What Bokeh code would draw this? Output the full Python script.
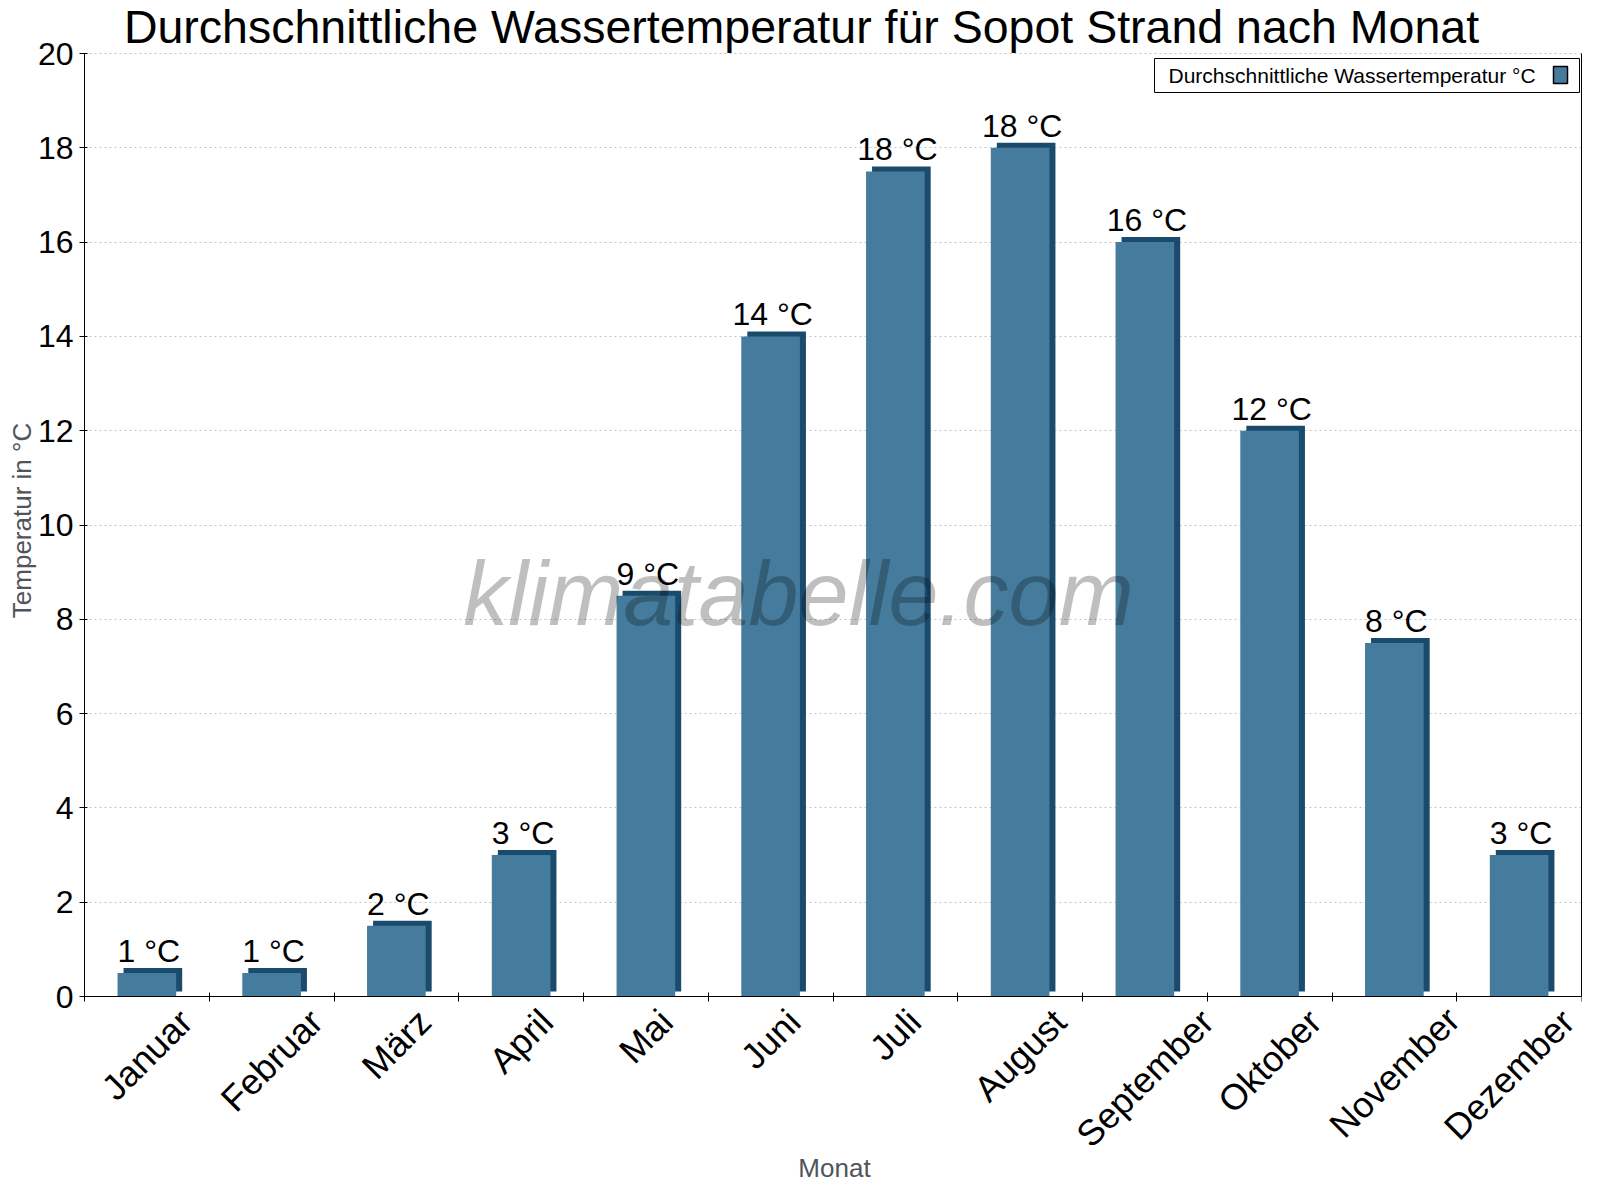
import math
from bokeh.plotting import figure
from bokeh.models import (Range1d, FixedTicker, LinearAxis, Label, LabelSet,
                          ColumnDataSource, BoxAnnotation)
from bokeh.embed import file_html
from bokeh.resources import INLINE
from bokeh.core.properties import value

# ---------------- data ----------------
months = ["Januar", "Februar", "März", "April", "Mai", "Juni", "Juli",
          "August", "September", "Oktober", "November", "Dezember"]
temps = [0.5, 0.5, 1.5, 3, 8.5, 14, 17.5, 18, 16, 12, 7.5, 3]
temp_labels = ["1 °C", "1 °C", "2 °C", "3 °C", "9 °C", "14 °C", "18 °C",
               "18 °C", "16 °C", "12 °C", "8 °C", "3 °C"]
y_ticks = [0, 2, 4, 6, 8, 10, 12, 14, 16, 18, 20]
y_min_value, y_max_value = 0, 20

title_text = "Durchschnittliche Wassertemperatur für Sopot Strand nach Monat"
legend_text = "Durchschnittliche Wassertemperatur °C"
x_title = "Monat"
y_title = "Temperatur in °C"
watermark = "klimatabelle.com"

# ---------------- style / layout (pixels) ----------------
FONT = "Liberation Sans"
FRONT = "#457b9d"
SIDE = "#1a4b6d"
AXIS_TITLE_COLOR = "#50555b"
W, H = 1584, 1184
LEFT = 84            # pixel column of the y axis
RIGHT_BORDER = 3     # px right of frame
Y_TOP_PX = 53        # pixel row of the 20 line
Y_ZERO_PX = 996      # pixel row of the 0 line
XLAB_PX = 36
BAR_W = 0.47

n = len(months)
px_per_unit = (Y_ZERO_PX - Y_TOP_PX) / (y_max_value - y_min_value)
px_per_cat = (W - LEFT - RIGHT_BORDER) / n


def dx(px):
    """pixel column -> x data value"""
    return (px - LEFT) / px_per_cat


def dy(py):
    """pixel row -> y data value"""
    return (Y_ZERO_PX - py) / px_per_unit


DX = 6 / px_per_cat       # 3D depth (horizontal)
DY = 5 / px_per_unit      # 3D depth (vertical)

# approximate advance widths (em) of Liberation Sans, for rotated label layout
CHAR_EM = {'J': .5, 'a': .556, 'n': .556, 'u': .556, 'r': .333, 'F': .611,
           'e': .556, 'b': .556, 'M': .833, 'ä': .556, 'z': .5, 'A': .667,
           'p': .556, 'i': .222, 'l': .222, 'g': .556, 's': .5, 't': .278,
           'S': .667, 'm': .833, 'O': .778, 'k': .5, 'o': .556, 'v': .5,
           'D': .722}


def text_width(s, px):
    return sum(CHAR_EM.get(c, 0.55) for c in s) * px


centers = [i + 0.5 for i in range(n)]

src = ColumnDataSource(dict(
    x=centers,
    top=temps,
    side_x=[c + DX for c in centers],
    side_top=[t + DY for t in temps],
    label=temp_labels,
))

p = figure(width=W, height=H, title=None,
           x_range=Range1d(dx(0), n), y_range=Range1d(dy(H), dy(0)),
           output_backend="svg", toolbar_location=None,
           min_border_left=0, min_border_right=RIGHT_BORDER,
           min_border_top=0, min_border_bottom=0,
           background_fill_color="white", border_fill_color="white",
           outline_line_color=None)

# ---------------- grid ----------------
p.xgrid.grid_line_color = None
p.ygrid.ticker = FixedTicker(ticks=y_ticks)
grid_style = dict(line_color="#c4c4c4", line_dash="2 3", line_width=1)
try:
    p.ygrid.cross_bounds = (0, n)
    p.ygrid.grid_line_color = grid_style["line_color"]
    p.ygrid.grid_line_dash = grid_style["line_dash"]
except AttributeError:
    p.ygrid.grid_line_color = None
    p.segment(x0=0, x1=n, y0=y_ticks, y1=y_ticks, **grid_style)

# ---------------- bars ----------------
p.vbar(x="side_x", top="side_top", bottom=DY, width=BAR_W, source=src,
       fill_color=SIDE, line_color=None)
p.vbar(x="x", top="top", bottom=0, width=BAR_W, source=src,
       fill_color=FRONT, line_color=None)

# value labels
p.add_layout(LabelSet(x="x", y="top", text="label", source=src,
                      x_offset=2, y_offset=11,
                      text_align="center", text_baseline="alphabetic",
                      text_font=value(FONT), text_font_size="32px",
                      text_color="black"))

# ---------------- axes ----------------
xaxis = p.xaxis[0]
xaxis.fixed_location = 0
xaxis.bounds = (0, n)
xaxis.ticker = FixedTicker(ticks=[], minor_ticks=list(range(n + 1)))
xaxis.major_tick_line_color = None
xaxis.minor_tick_line_color = "black"
xaxis.minor_tick_out = 5
xaxis.minor_tick_in = 4
xaxis.axis_line_color = "black"

yaxis = p.yaxis[0]
yaxis.fixed_location = 0
yaxis.ticker = FixedTicker(ticks=y_ticks)
yaxis.bounds = (y_min_value, y_max_value)
yaxis.minor_tick_line_color = None
yaxis.major_tick_line_color = "black"
yaxis.major_tick_out = 5
yaxis.major_tick_in = 3
yaxis.axis_line_color = "black"
yaxis.major_label_text_font = FONT
yaxis.major_label_text_font_size = "32px"
yaxis.major_label_text_color = "black"
yaxis.major_label_standoff = 6

# right border line
right_axis = LinearAxis(ticker=FixedTicker(ticks=[]), bounds=(y_min_value, y_max_value),
                        major_tick_line_color=None, minor_tick_line_color=None,
                        major_tick_out=0, major_tick_in=0, major_label_standoff=0,
                        axis_line_color="black")
p.add_layout(right_axis, "right")

# month labels rotated 45°, centred on each category, top-aligned under the axis
xl_off, yl_off = [], []
for c, m in zip(centers, months):
    L = text_width(m, XLAB_PX)
    half = 0.354 * (L + 1.15 * XLAB_PX)
    cx = LEFT + c * px_per_cat
    xl_off.append(min(0.0, (W - 2) - (cx + half)))
    yl_off.append(-(10 + 0.354 * (L + 26)))
xl_src = ColumnDataSource(dict(x=centers, y=[0] * n, text=months,
                               xoff=xl_off, yoff=yl_off))
p.add_layout(LabelSet(x="x", y="y", text="text", source=xl_src,
                      x_offset="xoff", y_offset="yoff", angle=math.pi / 4,
                      text_align="center", text_baseline="middle",
                      text_font=value(FONT), text_font_size=f"{XLAB_PX}px",
                      text_color="black"))

# axis titles
p.add_layout(Label(x=dx(834), y=dy(1152), text=x_title,
                   text_align="center", text_baseline="top",
                   text_font=FONT, text_font_size="26px",
                   text_color=AXIS_TITLE_COLOR))
p.add_layout(Label(x=dx(21), y=dy(520), text=y_title, angle=math.pi / 2,
                   text_align="center", text_baseline="middle",
                   text_font=FONT, text_font_size="26px",
                   text_color=AXIS_TITLE_COLOR))

# watermark
p.add_layout(Label(x=dx(798), y=dy(543), text=watermark,
                   text_align="center", text_baseline="top",
                   text_font=FONT, text_font_size="90px",
                   text_font_style="italic",
                   text_color="black", text_alpha=0.25))

# title
p.add_layout(Label(x=dx(801), y=dy(0.5), text=title_text,
                   text_align="center", text_baseline="top",
                   text_font=FONT, text_font_size="46.5px",
                   text_color="black"))

# legend box (text first, colour swatch on the right)
p.add_layout(BoxAnnotation(left=dx(1154), right=dx(1579), top=dy(58), bottom=dy(92),
                           fill_color="white", fill_alpha=1,
                           line_color="black", line_width=1, line_alpha=1))
p.add_layout(Label(x=dx(1168), y=dy(63.5), text=legend_text,
                   text_align="left", text_baseline="top",
                   text_font=FONT, text_font_size="21px",
                   text_color="black"))
p.add_layout(BoxAnnotation(left=dx(1553), right=dx(1567), top=dy(66), bottom=dy(83),
                           fill_color=FRONT, fill_alpha=1,
                           line_color="black", line_width=1.5, line_alpha=1))

open("out.html", "w").write(file_html(p, INLINE))
